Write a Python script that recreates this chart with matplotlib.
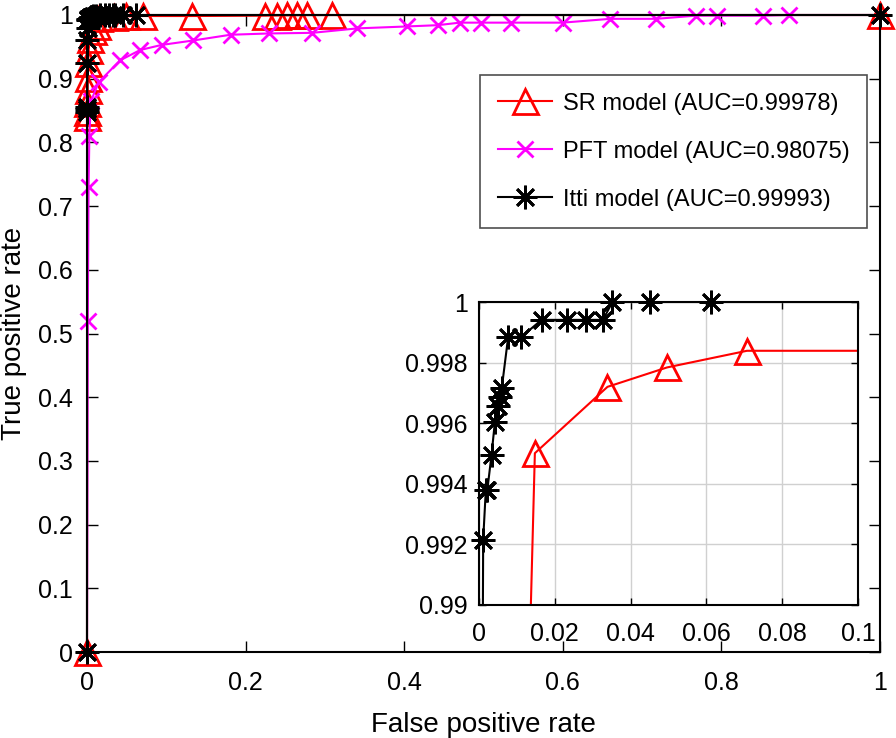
import numpy as np
import matplotlib
matplotlib.use("Agg")
import matplotlib.pyplot as plt

plt.rcParams['font.family'] = ['Liberation Sans', 'DejaVu Sans']

# ---- data ----
sr_fpr = [0, 0.0002, 0.0004, 0.0006, 0.0008, 0.001, 0.0015, 0.002, 0.004, 0.008, 0.012,
          0.01474, 0.0339, 0.0496, 0.0707, 0.132, 0.225, 0.239, 0.252, 0.265, 0.278, 0.309, 1.0]
sr_tpr = [0, 0.840, 0.848, 0.862, 0.882, 0.901, 0.925, 0.945, 0.962, 0.975, 0.982,
          0.99501, 0.9972, 0.99784, 0.99839, 0.99839, 0.9990, 0.9992, 0.9994, 0.9996, 0.9998, 0.9999, 1.0]

pft_fpr = [0, 0.001, 0.002, 0.003, 0.005, 0.015, 0.042, 0.067, 0.094, 0.134, 0.181, 0.229,
           0.284, 0.341, 0.403, 0.442, 0.470, 0.497, 0.535, 0.600, 0.660, 0.718, 0.768,
           0.794, 0.852, 0.885, 1.0]
pft_tpr = [0, 0.52, 0.73, 0.81, 0.865, 0.895, 0.929, 0.945, 0.953, 0.960, 0.969, 0.971,
           0.972, 0.979, 0.982, 0.984, 0.988, 0.988, 0.988, 0.988, 0.994, 0.994, 0.999,
           0.999, 0.999, 1.0, 1.0]

itti_fpr = [0, 0.0001, 0.0002, 0.0003, 0.0004, 0.0005, 0.0007, 0.0011, 0.0018, 0.0022,
            0.0033, 0.0042, 0.0051, 0.0055, 0.0060, 0.0077, 0.0112, 0.0165, 0.0231,
            0.0283, 0.0327, 0.0352, 0.045, 0.0612, 1.0]
itti_tpr = [0, 0.848, 0.852, 0.855, 0.925, 0.96, 0.98, 0.99215, 0.9938, 0.9938,
            0.99495, 0.99605, 0.99657, 0.99687, 0.99715, 0.99885, 0.99885, 0.99941, 0.99941,
            0.99941, 0.99941, 1.0, 1.0, 1.0, 1.0]

labels = ["SR model (AUC=0.99978)", "PFT model (AUC=0.98075)", "Itti model (AUC=0.99993)"]

main_xticks = [0, 0.2, 0.4, 0.6, 0.8, 1]
main_xticklabels = ["0", "0.2", "0.4", "0.6", "0.8", "1"]
main_yticks = [0, 0.1, 0.2, 0.3, 0.4, 0.5, 0.6, 0.7, 0.8, 0.9, 1]
main_yticklabels = ["0", "0.1", "0.2", "0.3", "0.4", "0.5", "0.6", "0.7", "0.8", "0.9", "1"]
ins_xticks = [0, 0.02, 0.04, 0.06, 0.08, 0.1]
ins_xticklabels = ["0", "0.02", "0.04", "0.06", "0.08", "0.1"]
ins_yticks = [0.99, 0.992, 0.994, 0.996, 0.998, 1.0]
ins_yticklabels = ["0.99", "0.992", "0.994", "0.996", "0.998", "1"]

asterisk = (8, 2, 0)
styles = [
    dict(color='#ff0000', marker='^', ms=18, mfc='none', mew=2.0),
    dict(color='#ff00ff', marker='x', ms=12, mfc='none', mew=2.0),
    dict(color='#000000', marker=asterisk, ms=17, mfc='none', mew=2.0),
]
series = [(sr_fpr, sr_tpr), (pft_fpr, pft_tpr), (itti_fpr, itti_tpr)]

W, H = 896, 738
fig = plt.figure(figsize=(W / 100, H / 100), dpi=100)

ax = fig.add_axes([87 / W, 1 - 652 / H, 793 / W, 637 / H])
handles = []
for (x, y), st, lab in zip(series, styles, labels):
    h, = ax.plot(x, y, lw=1.5, clip_on=False, label=lab, **st)
    handles.append(h)
ax.set_xlim(0, 1)
ax.set_ylim(0, 1)
ax.set_xticks(main_xticks)
ax.set_xticklabels(main_xticklabels)
ax.set_yticks(main_yticks)
ax.set_yticklabels(main_yticklabels)
ax.tick_params(direction='in', length=8, width=1, top=True, right=True,
               labelsize=18, pad=10)
ax.tick_params(axis='x', pad=14)
for s in ax.spines.values():
    s.set_linewidth(1.5)
ax.set_xlabel("False positive rate", fontsize=20, labelpad=12)
ax.set_ylabel("True positive rate", fontsize=20, labelpad=8)

leg = ax.legend(handles=handles, loc='upper right',
                bbox_to_anchor=(867 / W, 1 - 75 / H), bbox_transform=fig.transFigure,
                fontsize=17, frameon=True, fancybox=False, edgecolor='#222222',
                handlelength=2.3, labelspacing=1.1, borderpad=0.75, handletextpad=0.45,
                borderaxespad=0)
leg.get_frame().set_linewidth(1.2)

# ---- inset ----
axi = fig.add_axes([479 / W, 1 - 605 / H, 379 / W, 303 / H])
xmin, xmax, ymin, ymax = 0, 0.1, 0.99, 1.0
for (x, y), st in zip(series, styles):
    x = np.asarray(x); y = np.asarray(y)
    axi.plot(x, y, lw=1.5, color=st['color'])
    m = (x >= xmin) & (x <= xmax) & (y >= ymin) & (y <= ymax)
    axi.plot(x[m], y[m], ls='none', clip_on=False, **st)
axi.set_xlim(xmin, xmax)
axi.set_ylim(ymin, ymax)
axi.set_xticks(ins_xticks)
axi.set_xticklabels(ins_xticklabels)
axi.set_yticks(ins_yticks)
axi.set_yticklabels(ins_yticklabels)
axi.grid(True, color='#d0d0d0', lw=1)
axi.set_axisbelow(True)
axi.tick_params(direction='in', length=5, width=1, top=True, right=True,
                labelsize=18, pad=8)
axi.tick_params(axis='x', pad=12)
for s in axi.spines.values():
    s.set_linewidth(1.5)

fig.savefig("out.png", dpi=100)
